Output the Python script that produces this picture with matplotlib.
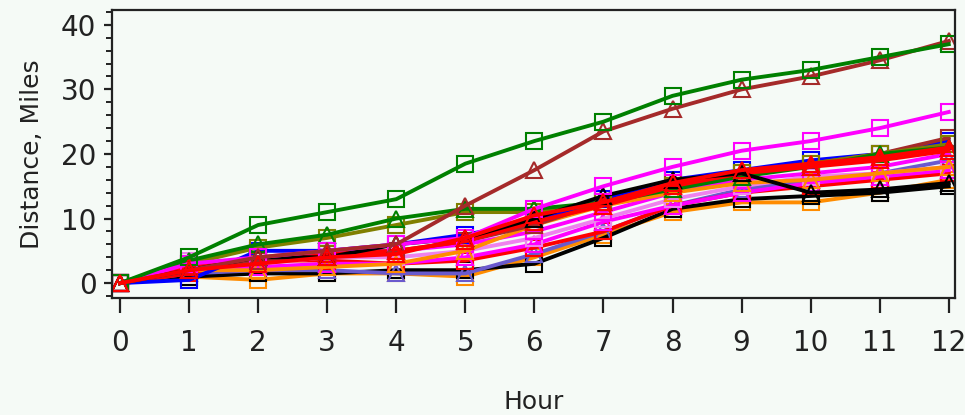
import matplotlib
matplotlib.use("Agg")
import matplotlib.pyplot as plt
from matplotlib.ticker import MultipleLocator

hours = list(range(13))

# Distance (miles) for each runner/series
s_green_sq   = [0, 4.0, 9.0, 11.0, 13.0, 18.5, 22.0, 25.0, 29.0, 31.5, 33.0, 35.0, 37.0]
s_brown_tri  = [0, 2.0, 4.0, 5.0, 6.0, 12.0, 17.5, 23.5, 27.0, 30.0, 32.0, 34.5, 37.5]
s_mag_sq     = [0, 3.0, 4.0, 5.0, 6.0, 7.0, 11.5, 15.0, 18.0, 20.5, 22.0, 24.0, 26.5]
s_green_tri  = [0, 3.5, 6.0, 7.5, 10.0, 11.5, 11.5, 12.5, 14.5, 16.5, 18.0, 20.0, 21.0]
s_olive_sq   = [0, 3.0, 5.5, 7.0, 9.0, 11.0, 11.0, 12.5, 15.0, 17.0, 18.5, 20.0, 21.5]
s_black_tri  = [0, 2.0, 4.0, 4.0, 6.0, 7.0, 10.0, 13.5, 16.0, 17.0, 14.0, 14.5, 15.5]
s_red_tri    = [0, 2.0, 3.0, 4.0, 4.5, 7.0, 10.5, 12.5, 15.5, 17.5, 18.5, 19.5, 21.0]
s_blue_sq    = [0, 0.5, 5.0, 5.0, 6.0, 7.5, 9.5, 13.0, 16.0, 17.5, 19.0, 20.0, 22.0]
s_orange_sq  = [0, 1.0, 0.5, 1.5, 1.5, 1.0, 4.0, 7.5, 11.0, 12.5, 12.5, 14.0, 16.0]
s_slate_tri  = [0, 1.5, 2.0, 2.0, 1.5, 1.5, 4.5, 8.0, 12.0, 14.5, 16.0, 17.0, 19.0]
s_black_sq   = [0, 1.0, 1.5, 1.5, 2.0, 2.0, 3.0, 7.0, 11.5, 13.0, 13.5, 14.0, 15.0]
s_violet_sq  = [0, 3.5, 3.0, 4.0, 4.0, 5.0, 7.0, 10.0, 13.0, 15.0, 16.5, 17.0, 18.0]
s_mag_tri    = [0, 2.0, 2.5, 3.0, 3.0, 4.0, 6.0, 9.5, 12.0, 14.0, 15.5, 16.5, 17.5]
s_pink_sq    = [0, 3.0, 3.5, 5.0, 5.0, 6.0, 8.0, 11.0, 14.0, 16.0, 17.0, 18.0, 20.0]
s_brown_sq   = [0, 2.0, 3.5, 4.5, 5.0, 6.5, 9.0, 12.5, 15.5, 17.0, 18.5, 20.0, 22.5]
s_red_sq     = [0, 1.5, 3.5, 3.5, 3.0, 3.5, 5.5, 8.0, 12.0, 14.0, 15.0, 16.0, 17.0]
s_orange_tri = [0, 2.0, 2.0, 2.5, 3.0, 5.0, 9.0, 12.0, 14.0, 15.5, 16.0, 17.0, 18.0]
s_red2_tri   = [0, 2.5, 4.0, 4.5, 5.0, 6.5, 9.5, 12.0, 15.0, 17.0, 18.0, 19.0, 20.5]

series = [
    (s_orange_sq, '#ff8c00', 's'),
    (s_black_sq, '#000000', 's'),
    (s_slate_tri, '#6a5acd', '^'),
    (s_red_sq, '#ff0000', 's'),
    (s_mag_tri, '#ff00ff', '^'),
    (s_violet_sq, '#ee82ee', 's'),
    (s_pink_sq, '#ff00ff', 's'),
    (s_orange_tri, '#ff8c00', '^'),
    (s_blue_sq, '#0000ff', 's'),
    (s_brown_sq, '#a52a2a', 's'),
    (s_olive_sq, '#808000', 's'),
    (s_green_tri, '#008000', '^'),
    (s_red2_tri, '#ff0000', '^'),
    (s_black_tri, '#000000', '^'),
    (s_mag_sq, '#ff00ff', 's'),
    (s_brown_tri, '#a52a2a', '^'),
    (s_green_sq, '#008000', 's'),
    (s_red_tri, '#ff0000', '^'),
]

BG = '#f5faf6'
plt.rcParams['font.family'] = ['DejaVu Sans Condensed', 'DejaVu Sans']

fig = plt.figure(figsize=(9.65, 4.15), dpi=100, facecolor=BG)
ax = fig.add_axes([0.1158, 0.282, 0.9896 - 0.1158, 0.976 - 0.282])
ax.set_facecolor(BG)

for vals, col, mk in series:
    ax.plot(hours, vals, color=col, lw=2.8, marker=mk, ms=12,
            mfc='none', mec=col, mew=1.5)

ax.set_xlim(-0.12, 12.09)
ax.set_ylim(-2.3, 42.3)
ax.set_xticks(hours)
ax.set_yticks([0, 10, 20, 30, 40])
ax.yaxis.set_minor_locator(MultipleLocator(2))

for sp in ax.spines.values():
    sp.set_linewidth(1.6)
    sp.set_color('#222222')

ax.tick_params(axis='x', which='major', direction='out', length=11, width=1.6,
               pad=11, labelsize=20, colors='#222222')
ax.tick_params(axis='y', which='major', direction='out', length=6, width=1.6,
               pad=5, labelsize=20, colors='#222222')
ax.tick_params(axis='y', which='minor', direction='out', length=4, width=1.4,
               colors='#222222')

ax.set_xlabel('Hour', fontsize=18, labelpad=24, color='#222222')
ax.set_ylabel('Distance, Miles', fontsize=18, labelpad=12, color='#222222')

fig.savefig('out.png', dpi=100, facecolor=BG)
